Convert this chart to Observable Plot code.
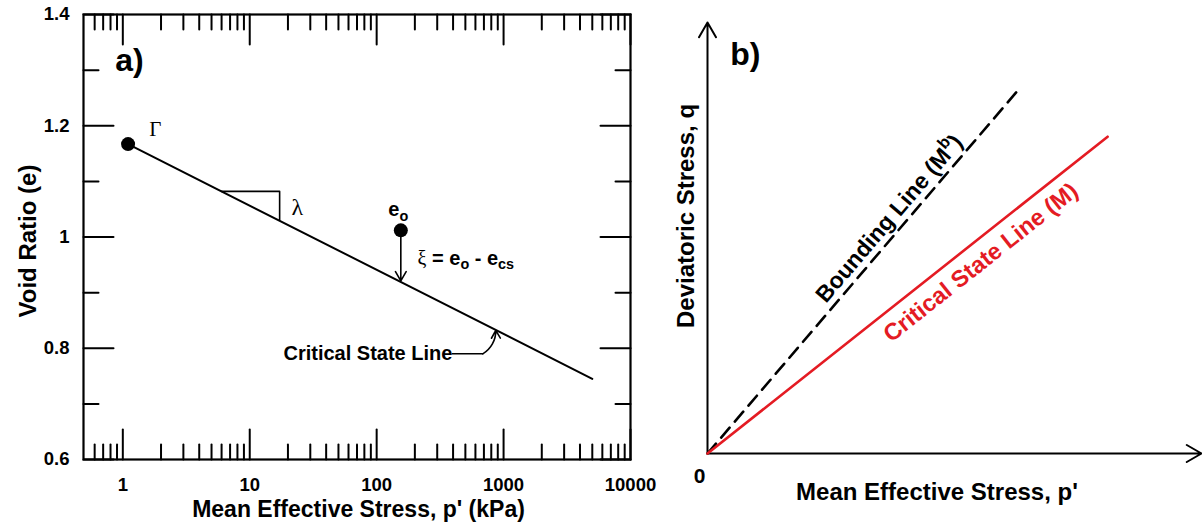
<!DOCTYPE html>
<html>
<head>
<meta charset="utf-8">
<script src="https://cdn.jsdelivr.net/npm/d3@7"></script>
<script src="https://cdn.jsdelivr.net/npm/@observablehq/plot@0.6"></script>
<style>
  html, body { margin: 0; padding: 0; background: #fff; }
  #wrap { position: relative; width: 1202px; height: 525px; overflow: hidden; background: #fff; }
  #panelA { position: absolute; left: 0; top: 0; }
  #panelB { position: absolute; left: 660px; top: 0; }
</style>
</head>
<body>
<div id="wrap"><div id="panelA"></div><div id="panelB"></div></div>
<script>
// ---------- Panel a data ----------
const xMajor = [1, 10, 100, 1000, 10000];
const xMajorLabels = ["1", "10", "100", "1000", "10000"];
const xMinor = [0.6, 0.7, 0.8, 0.9,
  2, 3, 4, 5, 6, 7, 8, 9,
  20, 30, 40, 50, 60, 70, 80, 90,
  200, 300, 400, 500, 600, 700, 800, 900,
  2000, 3000, 4000, 5000, 6000, 7000, 8000, 9000];
const yMajor = [0.6, 0.8, 1.0, 1.2, 1.4];
const yMajorLabels = ["0.6", "0.8", "1", "1.2", "1.4"];
const yMinor = [0.7, 0.9, 1.1, 1.3];
const xDomainA = [0.49, 10000];
const yDomainA = [0.6, 1.4];

// critical state line (e vs p')
const cslStress = [1.1, 5000];
const cslVoid = [1.167, 0.745];
// Gamma point and initial state
const gammaStress = [1.1];
const gammaVoid = [1.167];
const eoStress = [155];
const eoVoid = [1.012];
const eoCsVoid = [0.921];
// slope triangle
const slopeStress = [6.0, 17.2, 17.2];
const slopeVoid = [1.082, 1.082, 1.030];
// leader line for the "Critical State Line" label
const leaderStress = [395, 686];
const leaderVoid = [0.790, 0.790];
const leaderArrowStress = [686, 868];
const leaderArrowVoid = [0.790, 0.832];

// annotation texts (panel a)
const annoTexts = ["a)", "Γ", "λ", "e_{o}", "ξ = e_{o} - e_{cs}", "Critical State Line"];
const annoStress = [0.87, 1.8, 23.7, 148, 210, 395];
const annoVoid = [1.317, 1.193, 1.054, 1.049, 0.962, 0.791];

const xTitleA = "Mean Effective Stress, p' (kPa)";
const yTitleA = "Void Ratio (e)";

// ---------- Panel b data (schematic, normalised units) ----------
const bAxisX = [0, 1];
const bAxisY = [0, 1];
const bCslP = [0, 0.81];
const bCslQ = [0, 0.735];
const bBoundP = [0, 0.628];
const bBoundQ = [0, 0.842];
const bTexts = ["b)", "Bounding Line (M^{b})", "Critical State Line (M)"];
const bTextP = [0.046, 0.368, 0.553];
const bTextQ = [0.926, 0.545, 0.443];
const xTitleB = "Mean Effective Stress, p'";
const yTitleB = "Deviatoric Stress, q";
const originLabel = "0";

// ---------- styles ----------
const sans = "Arial, 'Liberation Sans', Helvetica, sans-serif";
const serif = "'Times New Roman', 'Liberation Serif', 'DejaVu Serif', serif";
const red = "#e41b23";

const tickShape = { draw(ctx, l) { ctx.moveTo(0, 0); ctx.lineTo(0, -l); } };
function ticksX(values, y, len, rot) {
  return Plot.vector(values, { x: d => d, y, length: len, rotate: rot, anchor: "start", shape: tickShape, stroke: "black", strokeWidth: 2 });
}
function ticksY(values, x, len, rot) {
  return Plot.vector(values, { x, y: d => d, length: len, rotate: rot, anchor: "start", shape: tickShape, stroke: "black", strokeWidth: 2 });
}

function richify(svg) {
  d3.select(svg).selectAll("text").each(function () {
    const t = this.textContent;
    if (!/[_^]\{|[ξΓλ]/.test(t)) return;
    const fs = parseFloat(getComputedStyle(this).fontSize) || 16;
    const el = d3.select(this);
    el.text(null);
    const re = /([_^])\{([^}]*)\}|([ξΓλ])|([^_^ξΓλ]+)/g;
    let m, pending = 0;
    while ((m = re.exec(t))) {
      if (m[1]) {
        const shift = m[1] === "_" ? 0.22 * fs : -0.42 * fs;
        el.append("tspan").attr("dy", shift + pending).attr("font-size", 0.72 * fs).text(m[2]);
        pending = -shift;
      } else {
        const ts = el.append("tspan").text(m[3] || m[4]);
        if (pending) { ts.attr("dy", pending); pending = 0; }
        if (m[3]) ts.attr("font-family", serif).attr("font-weight", "normal");
      }
    }
  });
}

// ---------- Panel a ----------
const cslRows = cslStress.map((p, i) => ({ p, e: cslVoid[i] }));
const slopeRows = slopeStress.map((p, i) => ({ p, e: slopeVoid[i] }));
const leaderRows = leaderStress.map((p, i) => ({ p, e: leaderVoid[i] }));
const annoRows = annoTexts.map((t, i) => ({ t, p: annoStress[i], e: annoVoid[i] }));

const anchorsA = ["start", "middle", "middle", "middle", "start", "end"];
const sizesA = [32, 21, 24, 20, 20, 20];

const plotA = Plot.plot({
  width: 660, height: 525,
  marginLeft: 83, marginRight: 30, marginTop: 14, marginBottom: 66,
  x: { type: "log", domain: xDomainA },
  y: { domain: yDomainA },
  style: { fontFamily: sans, fontWeight: "bold", color: "black", background: "transparent" },
  marks: [
    Plot.frame({ stroke: "black", strokeWidth: 2.2 }),
    ticksX(xMajor, yDomainA[0], 30, 0),
    ticksX(xMinor, yDomainA[0], 15, 0),
    ticksX(xMajor, yDomainA[1], 30, 180),
    ticksX(xMinor, yDomainA[1], 15, 180),
    ticksY(yMajor, xDomainA[0], 30, 90),
    ticksY(yMinor, xDomainA[0], 15, 90),
    ticksY(yMajor, xDomainA[1], 30, -90),
    ticksY(yMinor, xDomainA[1], 15, -90),
    Plot.axisX({ ticks: xMajor, tickFormat: (d) => xMajorLabels[xMajor.indexOf(d)], tickSize: 0, tickPadding: 18, fontSize: 18.5, fontWeight: "bold", label: null }),
    Plot.axisY({ ticks: yMajor, tickFormat: (d) => yMajorLabels[yMajor.findIndex(v => Math.abs(v - d) < 1e-9)], tickSize: 0, tickPadding: 14, fontSize: 18.5, fontWeight: "bold", label: null }),
    Plot.text([xTitleA], { frameAnchor: "bottom", textAnchor: "middle", lineAnchor: "middle", dy: 50, dx: 1.5, fontSize: 23, fontWeight: "bold" }),
    Plot.text([yTitleA], { frameAnchor: "left", textAnchor: "middle", lineAnchor: "middle", dx: -55, dy: 4, rotate: -90, fontSize: 24, fontWeight: "bold" }),
    Plot.line(cslRows, { x: "p", y: "e", stroke: "black", strokeWidth: 2 }),
    Plot.line(slopeRows, { x: "p", y: "e", stroke: "black", strokeWidth: 1.6 }),
    Plot.line(leaderRows, { x: "p", y: "e", stroke: "black", strokeWidth: 1.6 }),
    Plot.arrow([0], { x1: leaderArrowStress[0], y1: leaderArrowVoid[0], x2: leaderArrowStress[1], y2: leaderArrowVoid[1], bend: -30, stroke: "black", strokeWidth: 1.6, headLength: 12 }),
    Plot.arrow(eoStress.map((p, i) => ({ p, e1: eoVoid[i], e2: eoCsVoid[i] })), { x1: "p", y1: "e1", x2: "p", y2: "e2", stroke: "black", strokeWidth: 1.6, headLength: 10 }),
    Plot.dot(gammaStress.map((p, i) => ({ p, e: gammaVoid[i] })), { x: "p", y: "e", r: 7, fill: "black", stroke: "none" }),
    Plot.dot(eoStress.map((p, i) => ({ p, e: eoVoid[i] })), { x: "p", y: "e", r: 7, fill: "black", stroke: "none" }),
    ...annoRows.map((d, i) => Plot.text([d], { x: "p", y: "e", text: "t", textAnchor: anchorsA[i], fontSize: sizesA[i], fontWeight: "bold" }))
  ]
});
document.getElementById("panelA").appendChild(plotA);
richify(plotA);

// ---------- Panel b ----------
const WB = 542, HB = 525, mlB = 47, mrB = 1, mtB = 22, mbB = 72;
const spanX = WB - mlB - mrB, spanY = HB - mtB - mbB;
const angleOf = (p, q) => -Math.atan2(q * spanY, p * spanX) * 180 / Math.PI;
const bRot = [0, angleOf(bBoundP[1], bBoundQ[1]), angleOf(bCslP[1], bCslQ[1])];
const bColor = ["black", "black", red];
const bSize = [32, 23, 23.5];
const bAnchor = ["start", "middle", "middle"];

const plotB = Plot.plot({
  width: WB, height: HB,
  marginLeft: mlB, marginRight: mrB, marginTop: mtB, marginBottom: mbB,
  x: { domain: bAxisX, axis: null },
  y: { domain: bAxisY, axis: null },
  style: { fontFamily: sans, fontWeight: "bold", color: "black", background: "transparent" },
  marks: [
    Plot.arrow([0], { x1: bAxisX[0], y1: bAxisY[0], x2: bAxisX[0], y2: bAxisY[1], stroke: "black", strokeWidth: 2, headLength: 12.75, headAngle: 60 }),
    Plot.arrow([0], { x1: bAxisX[0], y1: bAxisY[0], x2: bAxisX[1], y2: bAxisY[0], stroke: "black", strokeWidth: 2, headLength: 12.75, headAngle: 60 }),
    Plot.line(bBoundP.map((p, i) => ({ p, q: bBoundQ[i] })), { x: "p", y: "q", stroke: "black", strokeWidth: 2.6, strokeDasharray: "13,8" }),
    Plot.line(bCslP.map((p, i) => ({ p, q: bCslQ[i] })), { x: "p", y: "q", stroke: red, strokeWidth: 2.6 }),
    ...bTexts.map((t, i) => Plot.text([t], { x: bTextP[i], y: bTextQ[i], rotate: bRot[i], fill: bColor[i], fontSize: bSize[i], textAnchor: bAnchor[i], fontWeight: "bold" })),
    Plot.text([originLabel], { frameAnchor: "bottom-left", textAnchor: "middle", lineAnchor: "middle", dx: -8, dy: 22.3, fontSize: 21, fontWeight: "bold" }),
    Plot.text([xTitleB], { frameAnchor: "bottom", textAnchor: "middle", lineAnchor: "middle", dx: -17.5, dy: 39, fontSize: 24, fontWeight: "bold" }),
    Plot.text([yTitleB], { frameAnchor: "left", textAnchor: "middle", lineAnchor: "middle", dx: -21, dy: -22, rotate: -90, fontSize: 24, fontWeight: "bold" })
  ]
});
document.getElementById("panelB").appendChild(plotB);
richify(plotB);
</script>
</body>
</html>
